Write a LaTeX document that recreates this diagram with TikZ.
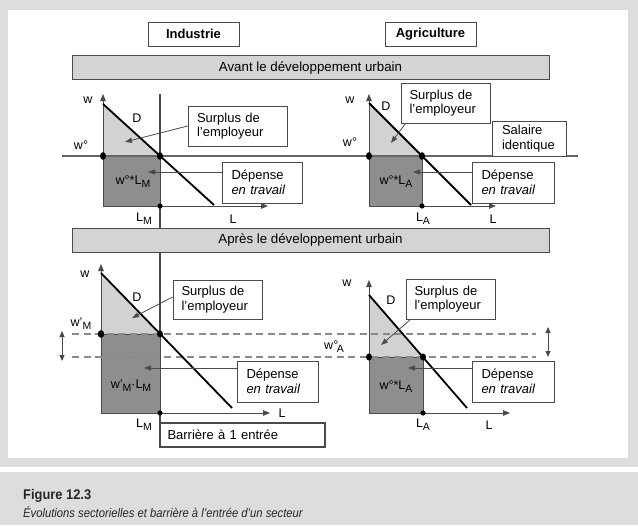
\documentclass[tikz,border=0pt]{standalone}
\usepackage{fontspec}
\setmainfont{Liberation Sans}
\usetikzlibrary{arrows.meta}
\definecolor{framegrey}{HTML}{DDDDDD}
\definecolor{barfill}{HTML}{D4D4D4}
\definecolor{lightfill}{HTML}{D2D2D2}
\definecolor{darkfill}{HTML}{8E8E8E}
\definecolor{edgegrey}{HTML}{4A4A4A}
\definecolor{dashgrey}{HTML}{8A8A8A}
\newcommand\sbs[1]{\raisebox{-0.45ex}{\fontsize{10.5}{10.5}\selectfont #1}}
\tikzset{
  txt/.style={inner sep=0pt, font=\fontsize{12.5}{14}\selectfont},
  hdr/.style={draw=edgegrey, line width=0.9pt, fill=white, minimum width=91pt, minimum height=24pt, inner sep=0pt, font=\fontsize{13}{14}\selectfont\bfseries},
  bar/.style={draw=edgegrey, line width=0.9pt, fill=barfill, minimum width=477pt, minimum height=24pt, inner sep=0pt, font=\fontsize{13.3}{14}\selectfont},
  note/.style={draw=edgegrey, line width=0.8pt, fill=white, align=left, inner xsep=9pt, inner ysep=0pt, font=\fontsize{13}{14.5}\selectfont},
  axisline/.style={draw=edgegrey, line width=0.8pt, -{Triangle[length=7pt,width=5.5pt]}},
  demand/.style={black, line width=1.8pt},
  ptr/.style={draw=edgegrey, line width=0.8pt, -{Triangle[length=7pt,width=5pt]}},
  dashln/.style={dashgrey, line width=1.6pt, dash pattern=on 7pt off 4.5pt},
  dbl/.style={edgegrey, line width=0.9pt, {Triangle[length=6pt,width=5pt]}-{Triangle[length=6pt,width=5pt]}},
  dotpt/.style={fill=black}
}
\begin{document}
\begin{tikzpicture}[x=1pt,y=-1pt]
\useasboundingbox (0,0) rectangle (638,530);
% frame
\fill[framegrey] (0,0) rectangle (638,467);
\fill[white] (8,10) rectangle (628,458);
\fill[framegrey] (0,472) rectangle (638,525);

% barrier vertical line (drawn first, covered by the bar)
\draw[edgegrey, line width=1.8pt] (160,94) -- (160,447);

% headers
\node[hdr] (ind) at (193.5,34) {Industrie};
\node[hdr] (agr) at (430.5,34) {Agriculture};
\node[bar] (avant) at (310.5,67.5) {Avant le développement urbain};

% ---------- top-left chart
\fill[lightfill] (103,104) -- (103,156) -- (160,156) -- cycle;
\fill[darkfill, draw=edgegrey, line width=0.6pt] (103,156) rectangle (160,206);
\draw[axisline] (103,206) -- (103,94);
\draw[axisline] (103,206) -- (268,206);
% ---------- top-right chart
\fill[lightfill] (369,103) -- (369,156) -- (422,156) -- cycle;
\fill[darkfill, draw=edgegrey, line width=0.6pt] (369,156) rectangle (422,206);
\draw[axisline] (369,206) -- (369,94);
\draw[axisline] (369,206) -- (496,206);
% common wage line
\draw[edgegrey!85, line width=1.2pt] (62,156) -- (578,156);
\draw[demand] (103,104) -- (214,205);
\draw[demand] (369,103) -- (471,205);
% dots
\fill[dotpt] (103,156) ellipse [x radius=3pt, y radius=3.8pt];
\fill[dotpt] (160,156) ellipse [x radius=3pt, y radius=3.8pt];
\fill[dotpt] (160,206) circle [radius=2.6pt];
\fill[dotpt] (369,156) ellipse [x radius=3pt, y radius=3.8pt];
\fill[dotpt] (422,156) ellipse [x radius=3pt, y radius=3.8pt];
\fill[dotpt] (422,206) circle [radius=2.6pt];

% labels top-left
\node[txt] (w1) at (88,100) {w};
\node[txt] (wo1) at (81,145) {w°};
\node[txt] (D1) at (137,118) {D};
\node[txt] (L1) at (233,219) {L};
\node[txt] (LM1) at (144,219) {L\sbs{M}};
\node[txt] (wl1) at (133,182) {w°*L\sbs{M}};
% labels top-right
\node[txt] (w2) at (350,100) {w};
\node[txt] (D2) at (386,106) {D};
\node[txt] (wo2) at (350,142) {w°};
\node[txt] (LA2) at (423,219) {L\sbs{A}};
\node[txt] (L2) at (493,219) {L};
\node[txt] (wl2) at (396,182) {w°*L\sbs{A}};

% notes top
\node[note, minimum width=99pt, text width=81pt, minimum height=40pt] (s1) at (237.5,126) {Surplus de\\l’employeur};
\coordinate (t1) at (125,142);
\draw[ptr] (s1.west) -- (t1);
\node[note, minimum width=80pt, text width=61pt, inner xsep=9.5pt, minimum height=41pt] (d1) at (262,182.5) {Dépense\\\textit{en travail}};
\coordinate (t2) at (148,172);
\draw[ptr] (d1.west |- t2) -- (t2);
\node[note, minimum width=89pt, text width=72pt, inner xsep=8.5pt, minimum height=40pt] (s2) at (445.5,103) {Surplus de\\l’employeur};
\coordinate (t3) at (391,143);
\draw[ptr] ([xshift=5pt]s2.south west) -- (t3);
\node[note, minimum width=74pt, text width=54pt, inner xsep=10pt, minimum height=35pt] (sal) at (529,138.5) {Salaire\\identique};
\node[note, minimum width=82pt, text width=63pt, inner xsep=9.5pt, minimum height=41pt] (d2) at (513,182.5) {Dépense\\\textit{en travail}};
\coordinate (t4) at (413,172);
\draw[ptr] (d2.west |- t4) -- (t4);

% ---------- bottom section
\node[bar] (apres) at (310.5,240) {Après le développement urbain};

% bottom-left chart
\fill[lightfill] (101,273) -- (101,334) -- (160,334) -- cycle;
\fill[darkfill, draw=edgegrey, line width=0.6pt] (101,334) rectangle (160,413);
\draw[axisline] (101,413) -- (101,264);
\draw[axisline] (101,413) -- (270,413);
% bottom-right chart
\fill[lightfill] (369,295) -- (369,357) -- (423,357) -- cycle;
\fill[darkfill, draw=edgegrey, line width=0.6pt] (369,357) rectangle (423,413);
\draw[axisline] (369,413) -- (369,280);
\draw[axisline] (369,413) -- (510,413);
% dashed wage lines
\draw[dashln] (72,334) -- (536,334);
\draw[dashln] (72,357) -- (536,357);
\draw[demand] (101,273) -- (232,408);
\draw[demand] (369,295) -- (467,408);
% double arrows
\coordinate (la) at (62,331);
\coordinate (lb) at (62,361);
\draw[dbl] (la) -- (lb);
\coordinate (ra) at (548,327);
\coordinate (rb) at (548,357);
\draw[dbl] (ra) -- (rb);
% dots
\fill[dotpt] (101,334) ellipse [x radius=3.2pt, y radius=3.8pt];
\fill[dotpt] (160,334) ellipse [x radius=3pt, y radius=3.6pt];
\fill[dotpt] (160,413) circle [radius=2.6pt];
\fill[dotpt] (369,357) ellipse [x radius=3pt, y radius=3.6pt];
\fill[dotpt] (423,357) ellipse [x radius=3pt, y radius=3.6pt];
\fill[dotpt] (423,413) circle [radius=2.6pt];

% labels bottom-left
\node[txt] (w3) at (85,274) {w};
\node[txt] (D3) at (137,297) {D};
\node[txt] (wm3) at (81,324) {w’\sbs{M}};
\node[txt] (wl3) at (131,386) {w’\sbs{M}·L\sbs{M}};
\node[txt] (LM3) at (144,425) {L\sbs{M}};
\node[txt] (L3) at (282,413) {L};
% labels bottom-right
\node[txt] (w4) at (347,283) {w};
\node[txt] (D4) at (391,300) {D};
\node[txt] (woA4) at (334,347) {w°\kern-1.5pt\sbs{A}};
\node[txt] (wl4) at (396,387) {w°*L\sbs{A}};
\node[txt] (LA4) at (423,425) {L\sbs{A}};
\node[txt] (L4) at (489,425) {L};

% notes bottom
\node[note, minimum width=89pt, text width=72pt, inner xsep=8.5pt, minimum height=39pt] (s3) at (217.5,299.5) {Surplus de\\l’employeur};
\coordinate (t5) at (132,318);
\draw[ptr] (s3.west |- 0,297) -- (t5);
\node[note, minimum width=81pt, text width=62pt, inner xsep=9.5pt, minimum height=41pt] (d3) at (277.5,381.5) {Dépense\\\textit{en travail}};
\coordinate (t6) at (144,368);
\draw[ptr] (d3.west |- t6) -- (t6);
\node[note, minimum width=89pt, text width=72pt, inner xsep=8.5pt, minimum height=40pt] (s4) at (450.5,299) {Surplus de\\l’employeur};
\coordinate (t7) at (381,345);
\draw[ptr] ([xshift=5pt]s4.south west) -- (t7);
\node[note, minimum width=82pt, text width=63pt, inner xsep=9.5pt, minimum height=41pt] (d4) at (513,381.5) {Dépense\\\textit{en travail}};
\coordinate (t8) at (408,368);
\draw[ptr] (d4.west |- t8) -- (t8);
\node[note, line width=1.4pt, text width=150pt, inner xsep=7.5pt, minimum height=24pt] (bar1) at (242.5,435) {Barrière à 1 entrée};

% caption
\node[anchor=west, inner sep=0pt, font=\fontsize{14}{15}\selectfont\bfseries, text=black!85] (figno) at (23,496) {\scalebox{0.92}[1]{Figure 12.3}};
\node[anchor=west, inner sep=0pt, font=\fontsize{12.5}{13}\selectfont\itshape, text=black!85] (figcap) at (23,512) {\scalebox{0.9}[1]{Évolutions sectorielles et barrière à l’entrée d’un secteur}};
\end{tikzpicture}
\end{document}
